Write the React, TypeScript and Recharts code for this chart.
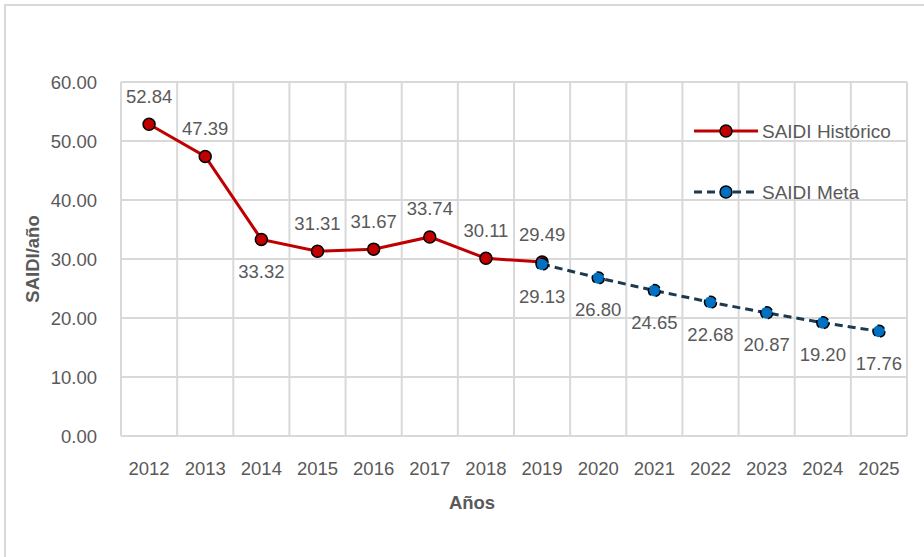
import React from "react";
import {
  LineChart,
  Line,
  XAxis,
  YAxis,
  CartesianGrid,
  LabelList,
} from "recharts";

// Data
const YEARS = [
  "2012", "2013", "2014", "2015", "2016", "2017", "2018",
  "2019", "2020", "2021", "2022", "2023", "2024", "2025",
];
const HISTORICO = [52.84, 47.39, 33.32, 31.31, 31.67, 33.74, 30.11, 29.49];
const META = [29.13, 26.8, 24.65, 22.68, 20.87, 19.2, 17.76];
const META_START = 7; // META begins at 2019
const Y_TICKS = [0, 10, 20, 30, 40, 50, 60];

const FONT = "'Liberation Sans', Arial, sans-serif";
const GRAY = "#595959";
const GRID = "#d9d9d9";
const RED = "#c00000";
const BLUE = "#0070c0";
const NAVY = "#1b3a4f";

const data = YEARS.map((year, i) => ({
  year,
  hist: i < HISTORICO.length ? HISTORICO[i] : null,
  meta: i >= META_START ? META[i - META_START] : null,
}));

// labels drawn under the point instead of above
const HIST_BELOW = new Set(["2014"]);

function makeLabel(series: "hist" | "meta") {
  return (props: any) => {
    const { x, y, value, index } = props;
    if (value == null || x == null || y == null) return null;
    const below = series === "meta" || HIST_BELOW.has(YEARS[index]);
    return (
      <text
        x={x}
        y={below ? y + 32 : y - 28}
        textAnchor="middle"
        dominantBaseline="central"
        fill={GRAY}
        fontSize={18.5}
        fontFamily={FONT}
      >
        {Number(value).toFixed(2)}
      </text>
    );
  };
}

function LegendRow({ label, color, fill, dash }: { label: string; color: string; fill: string; dash?: string }) {
  return (
    <svg width={225} height={24} style={{ display: "block" }}>
      <line x1={0} y1={12} x2={64} y2={12} stroke={color} strokeWidth={3} strokeDasharray={dash} />
      <circle cx={32} cy={12} r={6} fill={fill} stroke="#000" strokeWidth={1.5} />
      <text x={68} y={12} dominantBaseline="central" fill={GRAY} fontSize={19} fontFamily={FONT}>
        {label}
      </text>
    </svg>
  );
}

export default function App() {
  return (
    <div
      style={{
        position: "fixed",
        left: 0,
        top: 0,
        width: 924,
        height: 557,
        background: "#fff",
        overflow: "hidden",
      }}
    >
      <div
        style={{
          position: "absolute",
          left: 4,
          top: 4,
          width: 940,
          height: 580,
          border: `2px solid ${GRID}`,
          boxSizing: "border-box",
        }}
      />
      <div style={{ position: "absolute", left: 0, top: 0 }}>
        <LineChart
          width={924}
          height={557}
          data={data}
          margin={{ top: 82, right: 17, bottom: 0, left: 0 }}
        >
          <CartesianGrid
            stroke={GRID}
            strokeWidth={2}
            verticalCoordinatesGenerator={({ offset }: any) =>
              YEARS.map((_, i) => offset.left + (i * offset.width) / YEARS.length).concat(
                offset.left + offset.width
              )
            }
          />
          <XAxis
            dataKey="year"
            height={121}
            axisLine={false}
            tickLine={false}
            padding={{ left: 786 / 28, right: 786 / 28 }}
            tick={{ fill: GRAY, fontSize: 18.5, fontFamily: FONT }}
            tickMargin={20}
            interval={0}
            label={{
              value: "Años",
              position: "insideTop",
              offset: 60,
              dx: -42,
              fill: GRAY,
              fontSize: 18.5,
              fontWeight: 700,
              fontFamily: FONT,
            }}
          />
          <YAxis
            width={121}
            domain={[0, 60]}
            ticks={Y_TICKS}
            axisLine={false}
            tickLine={false}
            tickMargin={18}
            tickFormatter={(v: number) => v.toFixed(2)}
            tick={{ fill: GRAY, fontSize: 18.5, fontFamily: FONT }}
            label={{
              value: "SAIDI/año",
              angle: -90,
              position: "insideLeft",
              offset: 32,
              style: { textAnchor: "middle" },
              fill: GRAY,
              fontSize: 18.5,
              fontWeight: 700,
              fontFamily: FONT,
            }}
          />
          <Line
            dataKey="hist"
            name="SAIDI Histórico"
            stroke={RED}
            strokeWidth={3}
            dot={{ r: 6, fill: RED, stroke: "#000", strokeWidth: 1.5 }}
            isAnimationActive={false}
          >
            <LabelList dataKey="hist" content={makeLabel("hist")} />
          </Line>
          <Line
            dataKey="meta"
            name="SAIDI Meta"
            stroke={NAVY}
            strokeWidth={3}
            strokeDasharray="8 5"
            dot={{ r: 6, fill: BLUE, stroke: "#000", strokeWidth: 1.5 }}
            isAnimationActive={false}
          >
            <LabelList dataKey="meta" content={makeLabel("meta")} />
          </Line>
        </LineChart>
      </div>
      <div style={{ position: "absolute", left: 694, top: 119 }}>
        <LegendRow label="SAIDI Histórico" color={RED} fill={RED} />
        <div style={{ height: 37 }} />
        <LegendRow label="SAIDI Meta" color={NAVY} fill={BLUE} dash="8 5" />
      </div>
    </div>
  );
}
